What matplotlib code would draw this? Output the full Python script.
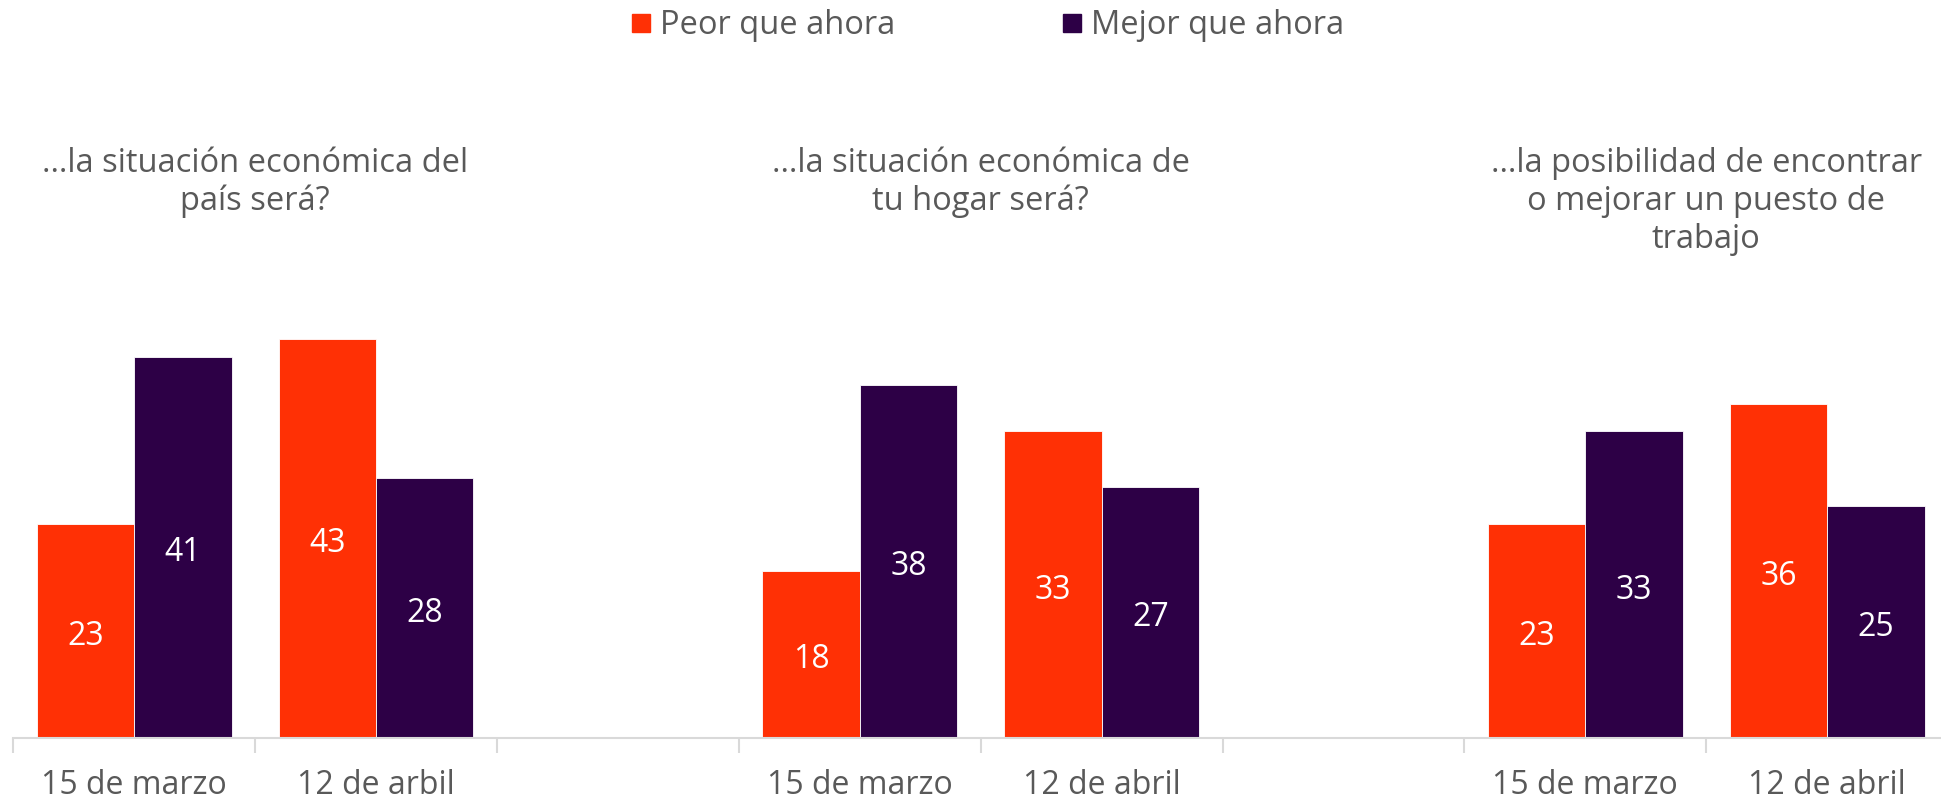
import numpy as np
import matplotlib
matplotlib.use("Agg")
import matplotlib.pyplot as plt
from matplotlib.lines import Line2D
from matplotlib.transforms import blended_transform_factory

plt.rcParams["font.family"] = ["Open Sans", "DejaVu Sans"]

# ── Données ───────────────────────────────────────────────────────────────────
categorias = ["15 de marzo", "12 de arbil", "", "15 de marzo", "12 de abril", "",
              "15 de marzo", "12 de abril"]
peor   = [23, 43, None, 18, 33, None, 23, 36]
mejor  = [41, 28, None, 38, 27, None, 33, 25]
titulos = ["…la situación económica del\npaís será?",
           "…la situación económica de\ntu hogar será?",
           "…la posibilidad de encontrar\no mejorar un puesto de\ntrabajo"]
series = ["Peor que ahora", "Mejor que ahora"]

C_PEOR, C_MEJOR = "#FF3005", "#2D0046"
GRIS = "#595959"

# ── Figure ────────────────────────────────────────────────────────────────────
fig = plt.figure(figsize=(19.41, 7.98), dpi=100)
ax = fig.add_axes([0.0068, 0.0752, 0.9969, 0.582])

x = np.arange(len(categorias))
w = 0.403
for i in x:
    if peor[i] is None:
        continue
    for val, off, col in [(peor[i], -w / 2, C_PEOR), (mejor[i], w / 2, C_MEJOR)]:
        ax.bar(i + off, val, width=w, color=col, edgecolor="white", linewidth=0.6)
        ax.text(i + off, val / 2 - 0.15, f"{val}", ha="center", va="center_baseline",
                color="white", fontsize=23)

ax.set_xlim(-0.5, len(categorias) - 0.5)
ax.set_ylim(0, 50)
ax.set_xticks(x)
ax.set_xticklabels(categorias, fontsize=23, color=GRIS)
ax.set_xticks(np.arange(-0.5, len(categorias)), minor=True)
ax.tick_params(axis="x", which="major", length=0, pad=22)
ax.tick_params(axis="x", which="minor", length=11, color="#D9D9D9", width=1.5)
ax.set_yticks([])
for s in ["top", "right", "left"]:
    ax.spines[s].set_visible(False)
ax.spines["bottom"].set_color("#D9D9D9")
ax.spines["bottom"].set_linewidth(1.5)

# titres de groupe
tr = blended_transform_factory(ax.transData, fig.transFigure)
for g, t in enumerate(titulos):
    ax.text(3 * g + 0.5, 0.816, t, transform=tr, ha="center", va="top",
            fontsize=23.5, color=GRIS, linespacing=1.2, clip_on=False)

# légende
handles = [Line2D([], [], marker="s", ls="", color=c, markersize=12.5)
           for c in (C_PEOR, C_MEJOR)]
leg = fig.legend(handles, series, loc="upper center", bbox_to_anchor=(0.508, 1.025),
                 ncol=2, frameon=False, fontsize=23.5, handletextpad=0.2,
                 columnspacing=5.0, handlelength=0.8)
for t in leg.get_texts():
    t.set_color(GRIS)

fig.savefig("out.png", dpi=100)
